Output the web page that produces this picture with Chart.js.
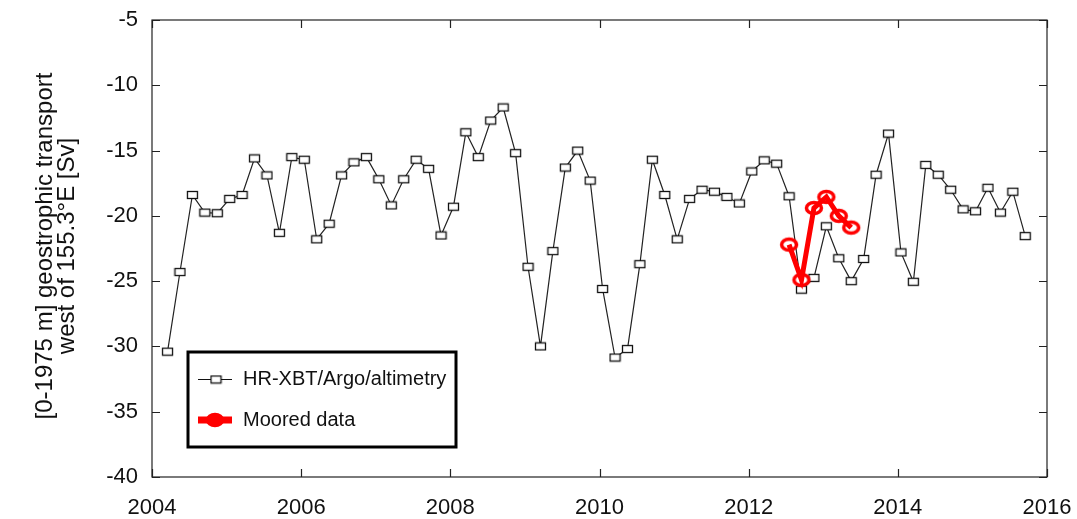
<!DOCTYPE html>
<html>
<head>
<meta charset="utf-8">
<script src="https://cdn.jsdelivr.net/npm/chart.js@4.4.1/dist/chart.umd.min.js"></script>
<style>
  html, body { margin: 0; padding: 0; background: #fff; }
</style>
</head>
<body>
<canvas id="chart" width="1077" height="519"></canvas>
<script>
// bimonthly samples, first one centred on mid-March 2004
const firstSample = 2004 + 2.5 / 12;
const sampleStep = 1 / 6;

const hrValues = [
  -30.4, -24.3, -18.4, -19.75, -19.8, -18.7, -18.4, -15.6, -16.9, -21.3,
  -15.5, -15.7, -21.8, -20.6, -16.9, -15.9, -15.5, -17.2, -19.2, -17.2,
  -15.7, -16.4, -21.5, -19.3, -13.6, -15.5, -12.7, -11.7, -15.2, -23.9,
  -30.0, -22.7, -16.3, -15.0, -17.3, -25.6, -30.85, -30.2, -23.7, -15.7,
  -18.4, -21.8, -18.7, -18.0, -18.15, -18.55, -19.05, -16.6, -15.75, -16.0,
  -18.5, -25.65, -24.75, -20.8, -23.25, -25.0, -23.3, -16.85, -13.7, -22.8,
  -25.05, -16.1, -16.85, -18.0, -19.5, -19.65, -17.85, -19.75, -18.15, -21.55
];

// moored record starts at the 51st sample
const mooredStart = 50;
const mooredValues = [-22.2, -24.9, -19.4, -18.55, -20.0, -20.9];

const xTicks = [2004, 2006, 2008, 2010, 2012, 2014, 2016];
const yTicks = [-5, -10, -15, -20, -25, -30, -35, -40];

const yTitle = ['[0-1975 m] geostrophic transport', 'west of 155.3°E [Sv]'];
const legendLabels = ['HR-XBT/Argo/altimetry', 'Moored data'];

const FONT = '"Liberation Sans", Arial, Helvetica, sans-serif';

function boxMarker() {
  const c = document.createElement('canvas');
  c.width = 13; c.height = 10;
  const g = c.getContext('2d');
  g.fillStyle = '#fff';
  g.fillRect(1, 1, 11, 8);
  g.strokeStyle = '#111';
  g.lineWidth = 1.3;
  g.strokeRect(1.5, 1.5, 10, 7);
  return c;
}

function ringMarker(filled) {
  const c = document.createElement('canvas');
  c.width = 22; c.height = 18;
  const g = c.getContext('2d');
  g.beginPath();
  g.ellipse(11, 9, 7.5, 5.5, 0, 0, Math.PI * 2);
  if (filled) { g.fillStyle = '#f00'; g.fill(); }
  g.strokeStyle = '#f00';
  g.lineWidth = 3.5;
  g.stroke();
  return c;
}

const hrPoints = hrValues.map((v, i) => ({ x: firstSample + i * sampleStep, y: v }));
const mooredPoints = mooredValues.map((v, i) => ({ x: firstSample + (mooredStart + i) * sampleStep, y: v }));

const boxImg = boxMarker();
const ringImg = ringMarker(false);
const ringFilled = ringMarker(true);

const framePlugin = {
  id: 'frame',
  beforeDatasetsDraw(chart) {
    const { ctx, chartArea: a, scales } = chart;
    ctx.save();
    ctx.strokeStyle = '#222';
    ctx.lineWidth = 1.2;
    ctx.strokeRect(a.left, a.top, a.right - a.left, a.bottom - a.top);
    const tl = 8;
    ctx.beginPath();
    xTicks.forEach(t => {
      const x = Math.round(scales.x.getPixelForValue(t)) + 0.5;
      ctx.moveTo(x, a.bottom); ctx.lineTo(x, a.bottom - tl);
      ctx.moveTo(x, a.top); ctx.lineTo(x, a.top + tl);
    });
    yTicks.forEach(t => {
      const y = Math.round(scales.y.getPixelForValue(t)) + 0.5;
      ctx.moveTo(a.left, y); ctx.lineTo(a.left + tl, y);
      ctx.moveTo(a.right, y); ctx.lineTo(a.right - tl, y);
    });
    ctx.stroke();

    // y axis title, two rotated lines
    ctx.fillStyle = '#111';
    ctx.font = '24px ' + FONT;
    ctx.textAlign = 'center';
    ctx.textBaseline = 'middle';
    ctx.translate(0, 246);
    ctx.rotate(-Math.PI / 2);
    ctx.fillText(yTitle[0], 0, 45);
    ctx.fillText(yTitle[1], 0, 67);
    ctx.restore();
  },
  afterDraw(chart) {
    const { ctx } = chart;
    ctx.save();
    // legend box
    ctx.fillStyle = '#fff';
    ctx.fillRect(188, 352, 268, 95);
    ctx.strokeStyle = '#000';
    ctx.lineWidth = 3;
    ctx.strokeRect(188, 352, 268, 95);

    ctx.strokeStyle = '#111';
    ctx.lineWidth = 1.2;
    ctx.beginPath();
    ctx.moveTo(198, 379.5); ctx.lineTo(232, 379.5);
    ctx.stroke();
    ctx.drawImage(boxImg, 216 - boxImg.width / 2, 379.5 - boxImg.height / 2);

    ctx.strokeStyle = '#f00';
    ctx.lineWidth = 7;
    ctx.beginPath();
    ctx.moveTo(198, 420); ctx.lineTo(232, 420);
    ctx.stroke();
    ctx.drawImage(ringFilled, 215 - ringFilled.width / 2, 420 - ringFilled.height / 2);

    ctx.fillStyle = '#111';
    ctx.font = '20px ' + FONT;
    ctx.textAlign = 'left';
    ctx.textBaseline = 'middle';
    ctx.fillText(legendLabels[0], 243, 379);
    ctx.fillText(legendLabels[1], 243, 420);
    ctx.restore();
  }
};

new Chart(document.getElementById('chart'), {
  type: 'line',
  data: {
    datasets: [
      {
        label: legendLabels[1],
        data: mooredPoints,
        borderColor: '#f00',
        borderWidth: 5,
        pointStyle: ringImg,
        pointRadius: 6,
        tension: 0,
        order: 0
      },
      {
        label: legendLabels[0],
        data: hrPoints,
        borderColor: '#222',
        borderWidth: 1.2,
        pointStyle: boxImg,
        pointRadius: 5,
        tension: 0,
        order: 1
      }
    ]
  },
  options: {
    responsive: false,
    animation: false,
    devicePixelRatio: 1,
    layout: { padding: { top: 20, right: 30, bottom: 0, left: 0 } },
    plugins: {
      legend: { display: false },
      tooltip: { enabled: false }
    },
    scales: {
      x: {
        type: 'linear',
        min: 2004,
        max: 2016,
        grid: { display: false, drawTicks: false },
        border: { display: false },
        afterBuildTicks: s => { s.ticks = xTicks.map(v => ({ value: v })); },
        afterFit: s => { s.height = 42; s.paddingLeft = 0; s.paddingRight = 0; },
        ticks: {
          padding: 18,
          maxRotation: 0,
          color: '#111',
          font: { family: FONT, size: 22 },
          callback: v => String(v)
        }
      },
      y: {
        min: -40,
        max: -5,
        grid: { display: false, drawTicks: false },
        border: { display: false },
        afterBuildTicks: s => { s.ticks = yTicks.map(v => ({ value: v })); },
        afterFit: s => { s.width = 152; s.paddingTop = 0; s.paddingBottom = 0; },
        ticks: {
          padding: 14,
          color: '#111',
          font: { family: FONT, size: 22 },
          callback: v => String(v)
        }
      }
    }
  },
  plugins: [framePlugin]
});
</script>
</body>
</html>
